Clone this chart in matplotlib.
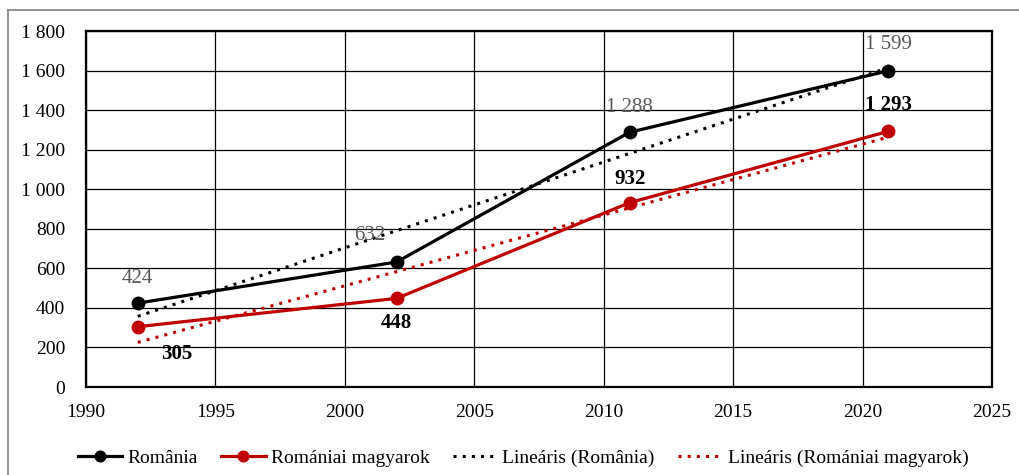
import numpy as np
import matplotlib
matplotlib.use("Agg")
import matplotlib.pyplot as plt
from matplotlib.lines import Line2D
from matplotlib.ticker import FuncFormatter

years = [1992, 2002, 2011, 2021]
romania = [424, 632, 1288, 1599]
magyarok = [305, 448, 932, 1293]
series_names = ["România", "Romániai magyarok", "Lineáris (România)", "Lineáris (Romániai magyarok)"]

RED = "#C00000"
plt.rcParams['font.family'] = ['Liberation Serif', 'DejaVu Serif']

W, H = 1019, 475
fig = plt.figure(figsize=(W / 100, H / 100), dpi=100)
ax = fig.add_axes([86 / W, 1 - 387 / H, (992 - 86) / W, (387 - 31) / H])

# outer frame (cropped at right/bottom)
fig.add_artist(Line2D([8 / W, 1.0], [1 - 10 / H, 1 - 10 / H], color="#7f7f7f", lw=1.2, transform=fig.transFigure))
fig.add_artist(Line2D([8 / W, 8 / W], [0.0, 1 - 10 / H], color="#7f7f7f", lw=1.2, transform=fig.transFigure))

x = np.array(years, dtype=float)
l1, = ax.plot(years, romania, color="black", lw=2.3, marker="o", ms=9, zorder=5)
l2, = ax.plot(years, magyarok, color=RED, lw=2.3, marker="o", ms=9, zorder=5)

p1 = np.polyfit(x, romania, 1)
p2 = np.polyfit(x, magyarok, 1)
xs = np.array([x.min(), x.max()])
l3, = ax.plot(xs, np.polyval(p1, xs), color="black", lw=2.2, ls=(0, (1, 2)), zorder=4)
l4, = ax.plot(xs, np.polyval(p2, xs), color=RED, lw=2.2, ls=(0, (1, 2)), zorder=4)

def fmt(v):
    return f"{int(v):,}".replace(",", " ")

# data labels
rom_off = [(0, 18), (-19, 19), (0, 18), (0, 19)]
mag_off = [(28, -20), (0, -18), (0, 17), (0, 19)]
for xi, yi, off in zip(years, romania, rom_off):
    ax.annotate(fmt(yi), (xi, yi), xytext=off, textcoords="offset points",
                ha="center", va="center", fontsize=15, color="#595959", zorder=6)
for xi, yi, off in zip(years, magyarok, mag_off):
    ax.annotate(fmt(yi), (xi, yi), xytext=off, textcoords="offset points",
                ha="center", va="center", fontsize=15, color="black", fontweight="bold", zorder=6)

ax.set_xlim(1990, 2025)
ax.set_ylim(0, 1800)
ax.set_xticks(range(1990, 2026, 5))
ax.set_yticks(range(0, 1801, 200))
ax.yaxis.set_major_formatter(FuncFormatter(lambda v, p: fmt(v)))
ax.grid(True, color="black", lw=0.9)
ax.set_axisbelow(True)
for s in ax.spines.values():
    s.set_linewidth(1.6)
    s.set_color("black")
ax.tick_params(length=0, labelsize=14, colors="black")
ax.tick_params(axis="y", pad=15)
ax.tick_params(axis="x", pad=12)

fig.legend([l1, l2, l3, l4], series_names, loc="center", bbox_to_anchor=(523 / W, 17 / H),
           ncol=4, frameon=False, fontsize=14, handlelength=2.3, handletextpad=0.25,
           columnspacing=1.2, borderpad=0, markerscale=0.85)

fig.savefig("out.png", dpi=100)
